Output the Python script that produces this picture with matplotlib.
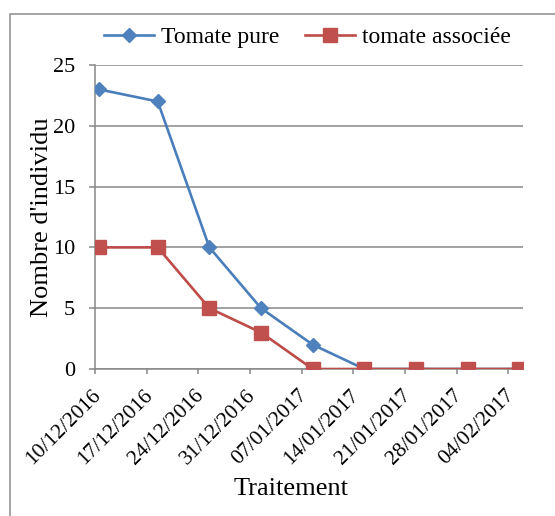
import matplotlib
matplotlib.use("Agg")
import matplotlib.pyplot as plt
import matplotlib.transforms as mtransforms
from matplotlib.patches import Rectangle
import pandas as pd

# ---- data ----
dates = ["10/12/2016", "18/12/2016", "25/12/2016", "01/01/2017", "08/01/2017",
         "15/01/2017", "22/01/2017", "29/01/2017", "05/02/2017"]
tomate_pure = [23, 22, 10, 5, 2, 0, 0, 0, 0]
tomate_associee = [10, 10, 5, 3, 0, 0, 0, 0, 0]
tick_labels = ["10/12/2016", "17/12/2016", "24/12/2016", "31/12/2016", "07/01/2017",
               "14/01/2017", "21/01/2017", "28/01/2017", "04/02/2017"]
series_names = ["Tomate pure", "tomate associée"]
y_ticks = [0, 5, 10, 15, 20, 25]

plt.rcParams['font.family'] = ['Liberation Serif', 'DejaVu Serif']

W, H = 555, 516
fig = plt.figure(figsize=(W / 100, H / 100), dpi=100)
L, R, T, B = 95, 523, 65, 369
ax = fig.add_axes([L / W, 1 - B / H, (R - L) / W, (B - T) / H])

x = pd.to_datetime(dates, format="%d/%m/%Y") + pd.Timedelta(hours=12)
ticks = pd.to_datetime(tick_labels, format="%d/%m/%Y")

blue_line, blue_face = "#4A7EBB", "#4F81BD"
red_line, red_face = "#BE4B48", "#C0504D"

ax.plot(x, tomate_pure, color=blue_line, lw=1.9, marker="D", ms=6.8,
        mfc=blue_face, mec=blue_face, label=series_names[0], zorder=3)
ax.plot(x, tomate_associee, color=red_line, lw=1.9, marker="s", ms=10.5,
        mfc=red_face, mec=red_face, label=series_names[1], zorder=4)

ax.set_xlim(pd.Timestamp("2016-12-10"), pd.Timestamp("2017-02-06"))
ax.set_ylim(0, 25)
ax.set_yticks(y_ticks)
ax.set_xticks(ticks)
ax.set_xticklabels(tick_labels)

grid_c = "#878787"
ax.yaxis.grid(True, color=grid_c, lw=1.1)
ax.set_axisbelow(True)
for s in ["top", "right"]:
    ax.spines[s].set_visible(False)
for s in ["left", "bottom"]:
    ax.spines[s].set_color(grid_c)
    ax.spines[s].set_linewidth(1.1)

ax.tick_params(axis="y", direction="out", length=4.3, width=1.1, color=grid_c,
               labelsize=16, pad=10)
ax.tick_params(axis="x", direction="out", length=3.6, width=1.1, color=grid_c,
               labelsize=15.5, pad=13.5)
shift = mtransforms.ScaledTranslation(3 / 100, 0, fig.dpi_scale_trans)
for lab in ax.get_xticklabels():
    lab.set_rotation(45)
    lab.set_ha("right")
    lab.set_va("center")
    lab.set_rotation_mode("anchor")
    lab.set_transform(lab.get_transform() + shift)

fig.text(42 / W, 1 - 217 / H, "Nombre d'individu", rotation=90,
         ha="center", va="center", fontsize=19)
fig.text(291.5 / W, 1 - 495 / H, "Traitement", ha="center", va="baseline",
         fontsize=19)

fig.legend(loc="center", bbox_to_anchor=(307.5 / W, 1 - 37 / H), ncol=2,
           frameon=False, fontsize=17, handlelength=2.15, handletextpad=0.3,
           columnspacing=1.05, borderaxespad=0, borderpad=0)

fig.patches.append(Rectangle((10 / W, -0.1), 1.2, 1.1 - 14 / H,
                             transform=fig.transFigure, fill=False,
                             edgecolor="#8C8C8C", lw=1.1))

fig.savefig("out.png", dpi=100)
